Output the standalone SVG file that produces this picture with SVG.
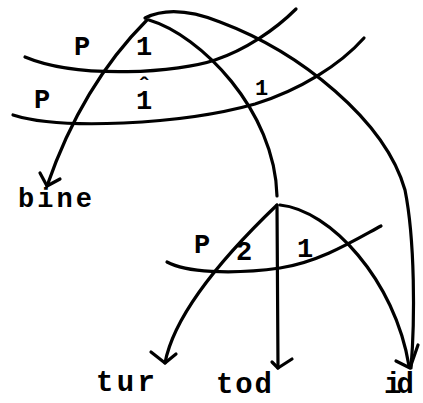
<svg xmlns="http://www.w3.org/2000/svg" width="423" height="403" viewBox="0 0 423 403">
<style>
.c{fill:none;stroke:#000;stroke-width:3.2;stroke-linecap:round;stroke-linejoin:round}
.a{fill:none;stroke:#000;stroke-width:3.2;stroke-linecap:round;stroke-linejoin:round}
.t{font-family:"Liberation Mono","DejaVu Sans Mono",monospace;font-weight:bold;fill:#000}
</style>
<rect width="423" height="403" fill="#fff"/>
<g id="connectors">
<path class="c" d="M25,57 C80,80 180,72 215,60 C245,50 275,30 296,9"/>
<path class="c" d="M13,115 C60,130 180,125 255,104 C300,90 340,65 364,38"/>
<path class="c" d="M167,262 C185,272 230,275 280,268 C320,262 355,240 381,226"/>
<path class="c" d="M147,20 C112,55 75,105 47,186"/>
<path class="a" d="M40,173 L47,186 L60,179"/>
<path class="c" d="M149,20 C200,35 275,110 277,196"/>
<path class="c" d="M145,18 C165,8 190,10 220,22 C300,52 385,120 405,190 C415,240 415,320 411,368"/>
<path class="c" d="M277,205 C230,250 175,310 165,363"/>
<path class="a" d="M151,352 L165,363 L176,354"/>
<path class="c" d="M277,205 L278,368"/>
<path class="a" d="M272,362 L278,368 L292,359"/>
<path class="c" d="M280,205 C330,210 395,280 409,366"/>
<path class="a" d="M396,361 L410,368 L418,345"/>
</g>
<g id="labels">
<text class="t" x="74" y="55" font-size="27">P</text>
<text class="t" x="136" y="55" font-size="27">1</text>
<text class="t" x="34" y="108" font-size="27">P</text>
<text class="t" font-size="27"><tspan x="136" y="109">1</tspan><tspan x="137" y="94" font-size="24">ˆ</tspan></text>
<text class="t" x="255" y="95" font-size="22">1</text>
<text class="t" x="194" y="253" font-size="27">P</text>
<text class="t" x="236" y="260" font-size="27">2</text>
<text class="t" x="297" y="257" font-size="27">1</text>
</g>
<g id="bine"><text class="t" x="18" y="207" font-size="27" textLength="74">bine</text></g>
<g id="tur"><text class="t" x="96" y="391" font-size="29" textLength="59">tur</text></g>
<g id="tod"><text class="t" x="216" y="393" font-size="29" textLength="56">tod</text></g>
<g id="id"><text class="t" x="384" y="393" font-size="29" textLength="30">id</text></g>
</svg>
